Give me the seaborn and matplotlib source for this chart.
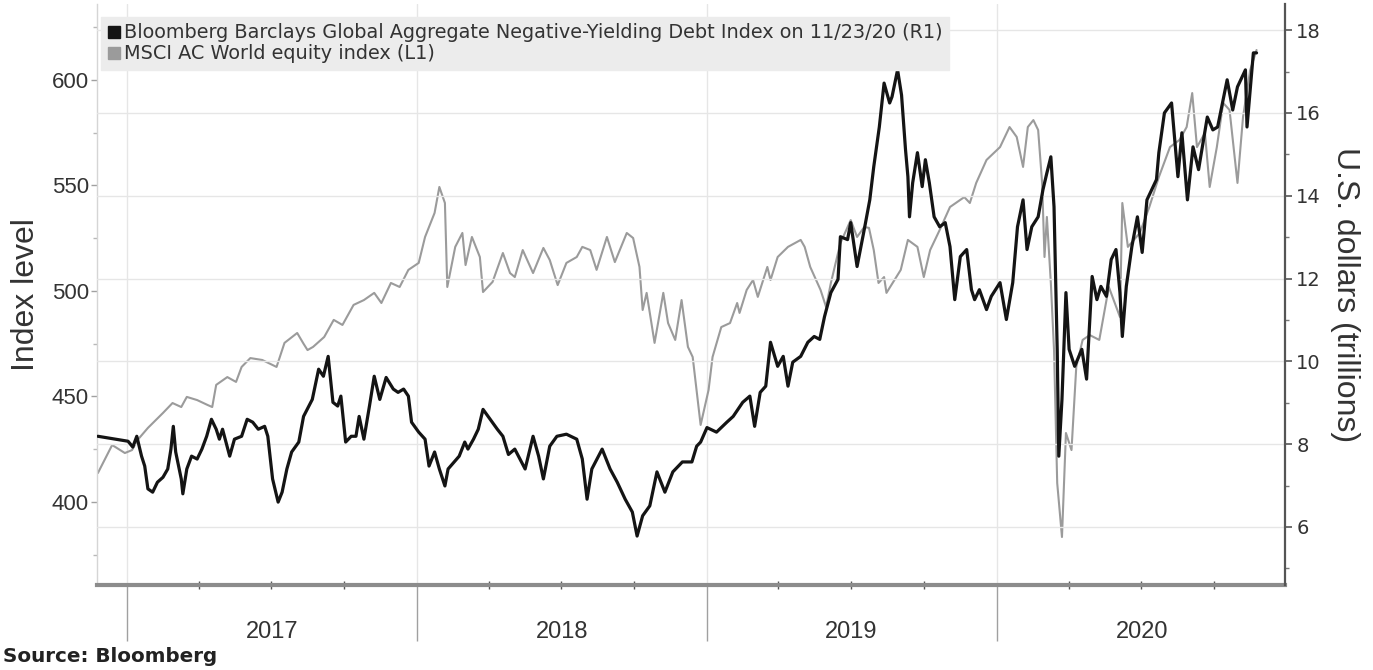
import matplotlib
matplotlib.use("Agg")
import matplotlib.pyplot as plt
import matplotlib.dates as mdates
from matplotlib.ticker import MultipleLocator, NullFormatter
from matplotlib.lines import Line2D
from matplotlib.transforms import blended_transform_factory
import seaborn as sns
import pandas as pd

# ---------------- data ----------------
msci_dates = [
    "2016-11-25", "2016-12-13", "2016-12-29", "2017-01-07", "2017-01-14", "2017-01-27",
    "2017-02-15", "2017-02-27", "2017-03-10", "2017-03-17", "2017-03-30", "2017-04-12",
    "2017-04-18", "2017-04-23", "2017-05-07", "2017-05-18", "2017-05-25", "2017-06-05",
    "2017-06-20", "2017-07-08", "2017-07-18", "2017-08-03", "2017-08-11", "2017-08-16",
    "2017-08-23", "2017-09-06", "2017-09-18", "2017-09-29", "2017-10-13", "2017-10-26",
    "2017-11-08", "2017-11-17", "2017-11-29", "2017-12-10", "2017-12-21", "2018-01-03",
    "2018-01-11", "2018-01-23", "2018-01-29", "2018-02-05", "2018-02-08", "2018-02-18",
    "2018-02-27", "2018-03-03", "2018-03-11", "2018-03-21", "2018-03-25", "2018-04-06",
    "2018-04-19", "2018-04-28", "2018-05-04", "2018-05-14", "2018-05-27", "2018-06-09",
    "2018-06-17", "2018-06-27", "2018-07-08", "2018-07-21", "2018-07-28", "2018-08-07",
    "2018-08-15", "2018-08-28", "2018-09-07", "2018-09-22", "2018-09-30", "2018-10-08",
    "2018-10-12", "2018-10-17", "2018-10-27", "2018-11-07", "2018-11-13", "2018-11-22",
    "2018-11-30", "2018-12-08", "2018-12-14", "2018-12-24", "2019-01-03", "2019-01-08",
    "2019-01-19", "2019-01-30", "2019-02-08", "2019-02-11", "2019-02-20", "2019-02-28",
    "2019-03-06", "2019-03-18", "2019-03-22", "2019-03-31", "2019-04-13", "2019-04-29",
    "2019-05-04", "2019-05-11", "2019-05-24", "2019-05-31", "2019-06-06", "2019-06-12",
    "2019-06-18", "2019-07-01", "2019-07-09", "2019-07-18", "2019-07-24", "2019-07-30",
    "2019-08-05", "2019-08-12", "2019-08-15", "2019-08-25", "2019-09-02", "2019-09-11",
    "2019-09-23", "2019-10-01", "2019-10-09", "2019-10-21", "2019-11-03", "2019-11-21",
    "2019-11-28", "2019-12-06", "2019-12-19", "2020-01-05", "2020-01-17", "2020-01-26",
    "2020-02-03", "2020-02-09", "2020-02-16", "2020-02-22", "2020-02-27", "2020-03-01",
    "2020-03-04", "2020-03-09", "2020-03-13", "2020-03-17", "2020-03-23", "2020-03-28",
    "2020-04-04", "2020-04-10", "2020-04-18", "2020-04-27", "2020-05-09", "2020-05-21",
    "2020-06-04", "2020-06-07", "2020-06-14", "2020-06-29", "2020-07-11", "2020-07-23",
    "2020-08-06", "2020-08-18", "2020-08-27", "2020-09-03", "2020-09-09", "2020-09-19",
    "2020-09-25", "2020-10-04", "2020-10-12", "2020-10-20", "2020-10-30", "2020-11-06",
    "2020-11-15", "2020-11-23",
]
msci_values = [
    413.7, 427.0, 423.2, 424.6, 429.4, 435.1,
    442.2, 446.9, 445.0, 449.8, 448.3, 446.0,
    445.0, 455.5, 459.2, 456.9, 464.0, 468.2,
    467.3, 464.0, 475.4, 480.1, 475.0, 472.0,
    473.5, 478.2, 486.3, 483.9, 493.4, 495.7,
    499.1, 494.3, 503.8, 501.9, 510.0, 513.3,
    525.6, 537.0, 549.3, 541.7, 501.9, 520.9,
    527.5, 512.3, 525.6, 516.1, 499.5, 504.3,
    518.0, 508.5, 506.6, 519.4, 508.5, 520.4,
    514.7, 502.8, 513.3, 516.1, 520.9, 519.4,
    510.0, 525.6, 513.7, 527.5, 525.1, 511.4,
    491.0, 499.1, 475.4, 499.1, 484.8, 476.8,
    495.7, 473.5, 468.7, 436.5, 453.1, 468.7,
    482.9, 484.8, 494.3, 489.6, 500.5, 505.2,
    497.2, 511.4, 505.2, 516.1, 520.9, 524.2,
    520.9, 511.4, 500.5, 492.4, 503.8, 513.3,
    522.7, 533.6, 525.6, 530.3, 529.9, 519.4,
    503.8, 506.6, 499.1, 505.2, 510.0, 524.2,
    520.9, 506.6, 519.4, 528.9, 539.8, 544.5,
    541.7, 551.2, 562.1, 568.2, 577.7, 573.0,
    558.8, 577.7, 581.0, 576.3, 551.2, 516.1,
    535.1, 503.8, 472.0, 409.0, 383.4, 432.7,
    424.6, 464.0, 476.8, 479.1, 476.8, 501.9,
    487.7, 541.7, 520.9, 527.5, 539.8, 554.0,
    568.2, 571.6, 577.7, 593.8, 568.2, 574.9,
    549.3, 568.2, 589.1, 585.8, 551.2, 582.5,
    604.7, 614.2,
]

debt_dates = [
    "2016-11-25", "2017-01-02", "2017-01-08", "2017-01-13", "2017-01-19", "2017-01-23",
    "2017-01-27", "2017-02-02", "2017-02-08", "2017-02-15", "2017-02-21", "2017-02-25",
    "2017-02-28", "2017-03-03", "2017-03-10", "2017-03-12", "2017-03-17", "2017-03-23",
    "2017-03-30", "2017-04-05", "2017-04-11", "2017-04-17", "2017-04-23", "2017-04-27",
    "2017-05-01", "2017-05-10", "2017-05-16", "2017-05-25", "2017-06-01", "2017-06-08",
    "2017-06-15", "2017-06-23", "2017-06-27", "2017-07-03", "2017-07-10", "2017-07-15",
    "2017-07-21", "2017-07-27", "2017-08-05", "2017-08-11", "2017-08-22", "2017-08-30",
    "2017-09-05", "2017-09-11", "2017-09-17", "2017-09-23", "2017-09-27", "2017-10-03",
    "2017-10-10", "2017-10-16", "2017-10-20", "2017-10-26", "2017-11-02", "2017-11-08",
    "2017-11-15", "2017-11-23", "2017-12-02", "2017-12-08", "2017-12-15", "2017-12-21",
    "2017-12-25", "2018-01-03", "2018-01-11", "2018-01-16", "2018-01-23", "2018-01-29",
    "2018-02-05", "2018-02-09", "2018-02-23", "2018-03-02", "2018-03-06", "2018-03-13",
    "2018-03-19", "2018-03-25", "2018-04-03", "2018-04-12", "2018-04-19", "2018-04-26",
    "2018-05-04", "2018-05-17", "2018-05-27", "2018-06-03", "2018-06-09", "2018-06-17",
    "2018-06-26", "2018-07-08", "2018-07-21", "2018-07-28", "2018-08-03", "2018-08-09",
    "2018-08-22", "2018-09-01", "2018-09-10", "2018-09-20", "2018-09-29", "2018-10-05",
    "2018-10-12", "2018-10-21", "2018-10-30", "2018-11-09", "2018-11-19", "2018-12-01",
    "2018-12-13", "2018-12-19", "2018-12-24", "2019-01-01", "2019-01-13", "2019-01-26",
    "2019-02-03", "2019-02-15", "2019-02-24", "2019-03-02", "2019-03-09", "2019-03-16",
    "2019-03-22", "2019-03-31", "2019-04-07", "2019-04-13", "2019-04-19", "2019-04-29",
    "2019-05-08", "2019-05-16", "2019-05-23", "2019-05-29", "2019-06-06", "2019-06-15",
    "2019-06-18", "2019-06-27", "2019-07-01", "2019-07-09", "2019-07-18", "2019-07-25",
    "2019-07-30", "2019-08-06", "2019-08-12", "2019-08-19", "2019-08-22", "2019-08-29",
    "2019-09-03", "2019-09-08", "2019-09-11", "2019-09-13", "2019-09-17", "2019-09-23",
    "2019-09-29", "2019-10-03", "2019-10-08", "2019-10-14", "2019-10-21", "2019-10-28",
    "2019-11-03", "2019-11-09", "2019-11-16", "2019-11-24", "2019-11-30", "2019-12-04",
    "2019-12-10", "2019-12-19", "2019-12-25", "2020-01-05", "2020-01-13", "2020-01-21",
    "2020-01-27", "2020-02-03", "2020-02-08", "2020-02-14", "2020-02-22", "2020-02-28",
    "2020-03-04", "2020-03-09", "2020-03-13", "2020-03-17", "2020-03-19", "2020-03-23",
    "2020-03-28", "2020-04-01", "2020-04-08", "2020-04-17", "2020-04-23", "2020-04-30",
    "2020-05-06", "2020-05-11", "2020-05-18", "2020-05-24", "2020-05-30", "2020-06-04",
    "2020-06-07", "2020-06-12", "2020-06-19", "2020-06-26", "2020-07-02", "2020-07-08",
    "2020-07-20", "2020-07-23", "2020-07-30", "2020-08-08", "2020-08-16", "2020-08-21",
    "2020-08-28", "2020-09-04", "2020-09-11", "2020-09-22", "2020-09-29", "2020-10-05",
    "2020-10-17", "2020-10-24", "2020-10-30", "2020-11-09", "2020-11-11", "2020-11-19",
    "2020-11-23",
]
debt_values = [
    8.19, 8.07, 7.93, 8.19, 7.71, 7.47,
    6.92, 6.84, 7.08, 7.20, 7.40, 7.88,
    8.43, 7.81, 7.16, 6.80, 7.40, 7.71,
    7.64, 7.88, 8.19, 8.60, 8.36, 8.12,
    8.36, 7.71, 8.12, 8.19, 8.60, 8.53,
    8.36, 8.43, 8.19, 7.16, 6.60, 6.84,
    7.40, 7.81, 8.05, 8.67, 9.08, 9.81,
    9.64, 10.12, 9.01, 8.92, 9.16, 8.05,
    8.19, 8.19, 8.67, 8.12, 8.92, 9.64,
    9.08, 9.61, 9.33, 9.25, 9.33, 9.16,
    8.53, 8.29, 8.12, 7.47, 7.81, 7.40,
    6.99, 7.40, 7.71, 8.05, 7.88, 8.12,
    8.36, 8.84, 8.60, 8.36, 8.19, 7.75,
    7.88, 7.40, 8.19, 7.71, 7.16, 7.95,
    8.19, 8.24, 8.12, 7.64, 6.67, 7.40,
    7.88, 7.40, 7.08, 6.67, 6.36, 5.78,
    6.27, 6.51, 7.33, 6.84, 7.33, 7.57,
    7.57, 7.95, 8.05, 8.40, 8.29, 8.53,
    8.67, 9.01, 9.16, 8.43, 9.25, 9.40,
    10.46, 9.88, 10.12, 9.40, 9.98, 10.12,
    10.46, 10.60, 10.53, 11.08, 11.66, 11.98,
    13.01, 12.94, 13.35, 12.29, 13.18, 13.90,
    14.70, 15.66, 16.72, 16.24, 16.39, 17.04,
    16.43, 15.11, 14.46, 13.49, 14.31, 15.04,
    14.22, 14.87, 14.31, 13.49, 13.25, 13.35,
    12.77, 11.49, 12.53, 12.70, 11.73, 11.49,
    11.73, 11.25, 11.57, 11.90, 11.01, 11.90,
    13.25, 13.90, 12.70, 13.25, 13.49, 14.14,
    14.55, 14.94, 13.73, 10.29, 7.71, 9.08,
    11.66, 10.29, 9.88, 10.29, 9.57, 12.05,
    11.49, 11.81, 11.57, 12.46, 12.70, 11.66,
    10.60, 11.81, 12.77, 13.49, 12.63, 13.90,
    14.39, 15.04, 16.00, 16.24, 14.46, 15.52,
    13.90, 15.18, 14.63, 15.90, 15.59, 15.66,
    16.80, 16.07, 16.63, 17.04, 15.66, 17.45,
    17.45,
]

years = [2017, 2018, 2019, 2020]
debt_label = "Bloomberg Barclays Global Aggregate Negative-Yielding Debt Index on 11/23/20 (R1)"
msci_label = "MSCI AC World equity index (L1)"

# ---------------- style ----------------
sns.set_theme(style="white")
plt.rcParams["font.family"] = ["DejaVu Sans"]
LBL_FONT = "Liberation Sans"
TXT = "#333333"
GRID = "#e6e6e6"

fig = plt.figure(figsize=(13.73, 6.70), dpi=100)
ax = fig.add_axes([0.0707, 0.127, 0.8653, 0.867])
ax2 = ax.twinx()

msci_df = pd.DataFrame({"date": pd.to_datetime(msci_dates), "value": msci_values})
debt_df = pd.DataFrame({"date": pd.to_datetime(debt_dates), "value": debt_values})

sns.lineplot(data=msci_df, x="date", y="value", ax=ax, color="#9b9b9b",
             linewidth=1.5, legend=False)
sns.lineplot(data=debt_df, x="date", y="value", ax=ax2, color="#141414",
             linewidth=2.3, legend=False)

ax.set_xlim(pd.Timestamp("2016-11-24"), pd.Timestamp("2020-12-29"))
ax.set_ylim(360.7, 636.0)
ax2.set_ylim(4.60, 18.63)

# x axis
ax.xaxis.set_major_locator(mdates.YearLocator())
ax.xaxis.set_minor_locator(mdates.MonthLocator(bymonth=[4, 7, 10]))
ax.xaxis.set_major_formatter(NullFormatter())
ax.xaxis.set_minor_formatter(NullFormatter())
ax.tick_params(axis="x", which="major", bottom=True, length=40, width=1,
               color="#a0a0a0", direction="out")
ax.tick_params(axis="x", which="minor", bottom=True, length=6, width=1,
               color="#555555", direction="inout")
ax.set_xlabel("")
ax2.set_xlabel("")

trans = blended_transform_factory(ax.transData, ax.transAxes)
for y in years:
    ax.text(pd.Timestamp(f"{y}-07-02"), -0.081, str(y), transform=trans,
            ha="center", va="center", fontsize=17, color=TXT, family=LBL_FONT)

# left axis
ax.yaxis.set_major_locator(MultipleLocator(50))
ax.yaxis.set_minor_locator(MultipleLocator(25))
ax.tick_params(axis="y", which="major", left=True, length=4, width=1, color="#a0a0a0",
               labelsize=16, labelcolor=TXT, pad=2)
ax.tick_params(axis="y", which="minor", left=True, length=3, width=1, color="#b8b8b8")
for lab in ax.get_yticklabels():
    lab.set_family(LBL_FONT)
ax.set_ylabel("Index level", fontsize=23, color=TXT, family=LBL_FONT)
ax.yaxis.set_label_coords(-0.047, 0.5)

# right axis
ax2.yaxis.set_major_locator(MultipleLocator(2))
ax2.yaxis.set_minor_locator(MultipleLocator(1))
ax2.tick_params(axis="y", which="major", right=True, length=5, width=1.2, color="#555555",
                labelsize=14, labelcolor=TXT, pad=3)
ax2.tick_params(axis="y", which="minor", right=True, length=3, width=1, color="#777777")
ax2.set_ylabel("U.S. dollars (trillions)", fontsize=23, color=TXT, family=LBL_FONT,
               rotation=270, va="bottom")
ax2.yaxis.set_label_coords(1.038, 0.5)

# grid
ax.grid(False)
ax2.grid(False)
ax.xaxis.grid(True, which="major", color=GRID, linewidth=1)
ax2.yaxis.grid(True, which="major", color=GRID, linewidth=1)
ax.set_axisbelow(True)

# spines
for s in ["top", "right"]:
    ax.spines[s].set_visible(False)
ax.spines["left"].set_color("#d5d5d5")
ax.spines["left"].set_linewidth(1)
ax.spines["bottom"].set_color("#8c8c8c")
ax.spines["bottom"].set_linewidth(3)
for s in ["top", "left", "bottom"]:
    ax2.spines[s].set_visible(False)
ax2.spines["right"].set_color("#555555")
ax2.spines["right"].set_linewidth(1.6)

# legend
handles = [
    Line2D([], [], marker="s", linestyle="none", color="#141414", markersize=9),
    Line2D([], [], marker="s", linestyle="none", color="#9b9b9b", markersize=9),
]
leg = ax2.legend(handles, [debt_label, msci_label], loc="upper left",
                 bbox_to_anchor=(0.0, 0.985), frameon=True, fancybox=False,
                 facecolor="#ececec", edgecolor="#ececec", framealpha=1,
                 fontsize=13.9, handlelength=0.7, handletextpad=0.15,
                 labelspacing=0.1, borderpad=0.35, borderaxespad=0.2)
for t in leg.get_texts():
    t.set_color(TXT)

fig.text(0.002, 0.006, "Source: Bloomberg", fontsize=14.3, fontweight="bold",
         color="#222222", ha="left", va="bottom")

fig.savefig("out.png", dpi=100)
